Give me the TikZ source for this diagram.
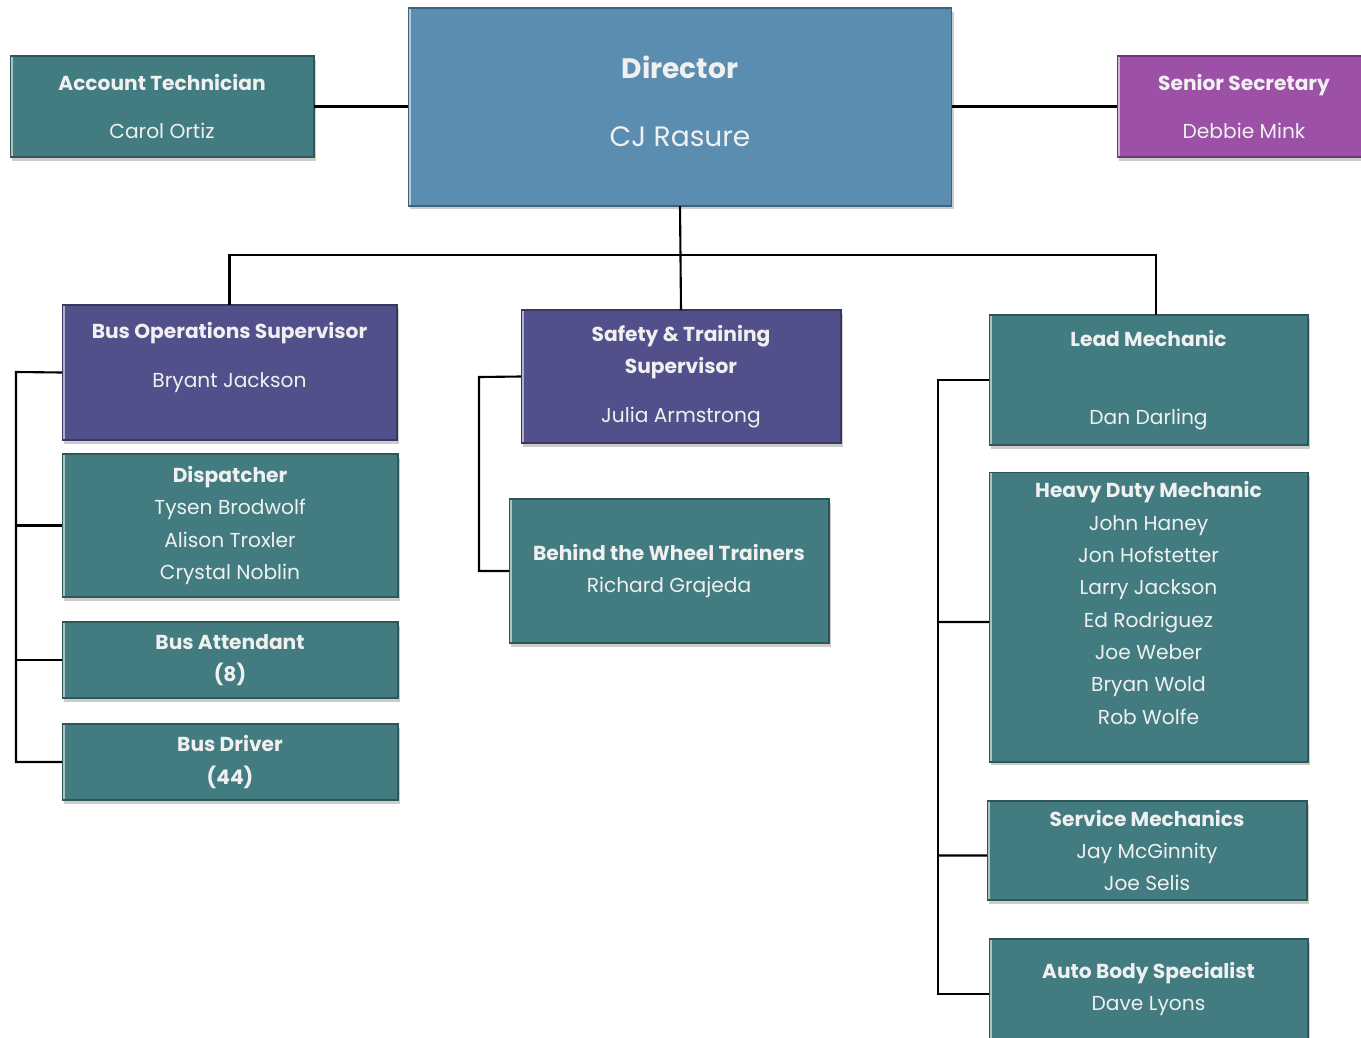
\documentclass[tikz,border=0pt]{standalone}
\usepackage{fontspec}
\setmainfont{Poppins}
\usetikzlibrary{shadows}

\definecolor{tealc}{RGB}{66,124,128}
\definecolor{bluec}{RGB}{91,141,176}
\definecolor{violc}{RGB}{156,80,166}
\definecolor{indigoc}{RGB}{82,80,138}

\begin{document}
\begin{tikzpicture}[x=0.02cm,y=-0.02cm,
  card/.style={rectangle, fill=#1, draw=#1!70!black, line width=0.6pt,
    text=white!94!black, align=center, inner sep=0pt, outer sep=0pt,
    font=\fontsize{11.5}{18.4}\selectfont,
    drop shadow={opacity=0.4, shadow xshift=1pt, shadow yshift=-2pt},
    path picture={\draw[#1!45!white, line width=1.4pt]
      ([xshift=1.2pt]path picture bounding box.north west) --
      ([xshift=1.2pt]path picture bounding box.south west);}},
  wire/.style={draw=black, line width=1.2pt}]

\useasboundingbox (0,0) rectangle (1361,1037);

% top row
\node [card=bluec, minimum width=10.88cm, minimum height=3.96cm,
  font=\fontsize{16}{20}\selectfont] (dir) at (680,107)
  {\textbf{Director}\\[19pt] CJ Rasure\\[-19.6pt] \strut};
\node [card=tealc, minimum width=6.08cm, minimum height=2.02cm] (acct) at (162,106.5)
  {\textbf{Account Technician}\\[9.4pt] Carol Ortiz};
\node [card=violc, minimum width=5.08cm, minimum height=2.02cm] (sec) at (1244,106.5)
  {\textbf{Senior Secretary}\\[9.4pt] Debbie Mink};

% bus operations
\node [card=indigoc, minimum width=6.7cm, minimum height=2.7cm] (busops) at (229.5,372.5)
  {\textbf{Bus Operations Supervisor}\\[9.4pt] Bryant Jackson\\[-3.7pt] \strut};
\node [card=tealc, minimum width=6.72cm, minimum height=2.86cm] (disp) at (230,525.5)
  {\textbf{Dispatcher}\\ Tysen Brodwolf\\ Alison Troxler\\ Crystal Noblin};
\node [card=tealc, minimum width=6.72cm, minimum height=1.52cm] (attend) at (230,660)
  {\textbf{Bus Attendant}\\ \textbf{(8)}};
\node [card=tealc, minimum width=6.72cm, minimum height=1.52cm] (driver) at (230,762)
  {\textbf{Bus Driver}\\ \textbf{(44)}};

% safety and training
\node [card=indigoc, minimum width=6.4cm, minimum height=2.66cm] (safety) at (681,376.5)
  {\textbf{Safety \& Training}\\ \textbf{Supervisor}\\[9.4pt] Julia Armstrong};
\node [card=tealc, minimum width=6.4cm, minimum height=2.88cm] (wheel) at (669,571)
  {\textbf{Behind the Wheel Trainers}\\ Richard Grajeda};

% shop
\node [card=tealc, minimum width=6.38cm, minimum height=2.6cm] (leadm) at (1148.5,380)
  {\textbf{Lead Mechanic}\\[25.8pt] Dan Darling};
\node [card=tealc, minimum width=6.38cm, minimum height=5.8cm] (heavy) at (1148.5,617)
  {\textbf{Heavy Duty Mechanic}\\ John Haney\\ Jon Hofstetter\\ Larry Jackson\\
   Ed Rodriguez\\ Joe Weber\\ Bryan Wold\\ Rob Wolfe\\[-8pt] \strut};
\node [card=tealc, minimum width=6.4cm, minimum height=1.98cm] (service) at (1147,850.5)
  {\textbf{Service Mechanics}\\ Jay McGinnity\\ Joe Selis};
\node [card=tealc, minimum width=6.38cm, minimum height=2cm] (autob) at (1148.5,989)
  {\textbf{Auto Body Specialist}\\ Dave Lyons};

% connectors
\coordinate (hub) at (680,255);
\coordinate (lspine) at (16,372);
\coordinate (mspine) at (479,377);
\coordinate (rspine) at (938,380);

\draw [wire] (acct.east) -- (dir.west |- acct.east);
\draw [wire] (dir.east |- sec.west) -- (sec.west);
\draw [wire] (dir.south) -- (safety.north);
\draw [wire] (busops.north) |- (hub) -| ([xshift=0.15cm]leadm.north);

\draw [wire] (busops.west) -- (lspine) |- (driver.west);
\draw [wire] (lspine |- disp.west) -- (disp.west);
\draw [wire] (lspine |- attend.west) -- (attend.west);

\draw [wire] (safety.west) -- (mspine) |- (wheel.west);

\draw [wire] (leadm.west) -- (rspine) |- ([yshift=-0.1cm]autob.west);
\draw [wire] (rspine |- heavy.west) ++(0,5) -- ([yshift=-0.1cm]heavy.west);
\draw [wire] (rspine |- service.west) ++(0,5) -- ([yshift=-0.1cm]service.west);
\end{tikzpicture}
\end{document}
